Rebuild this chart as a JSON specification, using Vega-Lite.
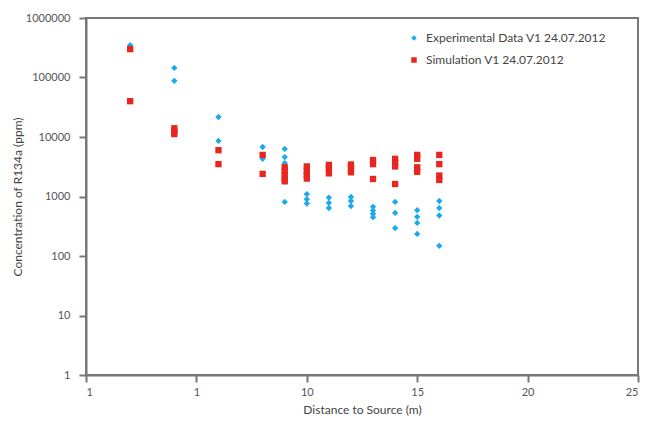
{
  "$schema": "https://vega.github.io/schema/vega-lite/v6.json",
  "width": 552,
  "height": 357,
  "autosize": {"type": "none"},
  "padding": {"left": 86, "top": 18, "right": 14, "bottom": 54},
  "background": "white",
  "config": {
    "font": "Lato",
    "view": {"stroke": "#777777", "strokeWidth": 2},
    "axis": {
      "grid": false,
      "domainColor": "#777777",
      "domainWidth": 2,
      "tickColor": "#777777",
      "tickWidth": 2,
      "tickSize": 7,
      "labelColor": "#555555",
      "labelFontSize": 11,
      "titleColor": "#444444",
      "titleFontSize": 12,
      "titleFontWeight": "normal",
      "labelFont": "Lato",
      "titleFont": "Lato"
    }
  },
  "data": {
    "values": [
      {"d": 2, "c": 350000, "s": "Experimental Data V1 24.07.2012"},
      {"d": 4, "c": 145000, "s": "Experimental Data V1 24.07.2012"},
      {"d": 4, "c": 88000, "s": "Experimental Data V1 24.07.2012"},
      {"d": 6, "c": 21700, "s": "Experimental Data V1 24.07.2012"},
      {"d": 6, "c": 8600, "s": "Experimental Data V1 24.07.2012"},
      {"d": 8, "c": 6800, "s": "Experimental Data V1 24.07.2012"},
      {"d": 8, "c": 4300, "s": "Experimental Data V1 24.07.2012"},
      {"d": 9, "c": 6300, "s": "Experimental Data V1 24.07.2012"},
      {"d": 9, "c": 4600, "s": "Experimental Data V1 24.07.2012"},
      {"d": 9, "c": 3650, "s": "Experimental Data V1 24.07.2012"},
      {"d": 9, "c": 810, "s": "Experimental Data V1 24.07.2012"},
      {"d": 10, "c": 1100, "s": "Experimental Data V1 24.07.2012"},
      {"d": 10, "c": 900, "s": "Experimental Data V1 24.07.2012"},
      {"d": 10, "c": 760, "s": "Experimental Data V1 24.07.2012"},
      {"d": 11, "c": 960, "s": "Experimental Data V1 24.07.2012"},
      {"d": 11, "c": 780, "s": "Experimental Data V1 24.07.2012"},
      {"d": 11, "c": 640, "s": "Experimental Data V1 24.07.2012"},
      {"d": 12, "c": 980, "s": "Experimental Data V1 24.07.2012"},
      {"d": 12, "c": 840, "s": "Experimental Data V1 24.07.2012"},
      {"d": 12, "c": 690, "s": "Experimental Data V1 24.07.2012"},
      {"d": 13, "c": 670, "s": "Experimental Data V1 24.07.2012"},
      {"d": 13, "c": 580, "s": "Experimental Data V1 24.07.2012"},
      {"d": 13, "c": 510, "s": "Experimental Data V1 24.07.2012"},
      {"d": 13, "c": 450, "s": "Experimental Data V1 24.07.2012"},
      {"d": 14, "c": 810, "s": "Experimental Data V1 24.07.2012"},
      {"d": 14, "c": 530, "s": "Experimental Data V1 24.07.2012"},
      {"d": 14, "c": 295, "s": "Experimental Data V1 24.07.2012"},
      {"d": 15, "c": 590, "s": "Experimental Data V1 24.07.2012"},
      {"d": 15, "c": 455, "s": "Experimental Data V1 24.07.2012"},
      {"d": 15, "c": 360, "s": "Experimental Data V1 24.07.2012"},
      {"d": 15, "c": 235, "s": "Experimental Data V1 24.07.2012"},
      {"d": 16, "c": 840, "s": "Experimental Data V1 24.07.2012"},
      {"d": 16, "c": 640, "s": "Experimental Data V1 24.07.2012"},
      {"d": 16, "c": 480, "s": "Experimental Data V1 24.07.2012"},
      {"d": 16, "c": 148, "s": "Experimental Data V1 24.07.2012"},
      {"d": 2, "c": 300000, "s": "Simulation V1 24.07.2012"},
      {"d": 2, "c": 40000, "s": "Simulation V1 24.07.2012"},
      {"d": 4, "c": 14000, "s": "Simulation V1 24.07.2012"},
      {"d": 4, "c": 12500, "s": "Simulation V1 24.07.2012"},
      {"d": 4, "c": 11200, "s": "Simulation V1 24.07.2012"},
      {"d": 6, "c": 6000, "s": "Simulation V1 24.07.2012"},
      {"d": 6, "c": 3500, "s": "Simulation V1 24.07.2012"},
      {"d": 8, "c": 5000, "s": "Simulation V1 24.07.2012"},
      {"d": 8, "c": 2400, "s": "Simulation V1 24.07.2012"},
      {"d": 9, "c": 3100, "s": "Simulation V1 24.07.2012"},
      {"d": 9, "c": 2700, "s": "Simulation V1 24.07.2012"},
      {"d": 9, "c": 2300, "s": "Simulation V1 24.07.2012"},
      {"d": 9, "c": 2000, "s": "Simulation V1 24.07.2012"},
      {"d": 9, "c": 1800, "s": "Simulation V1 24.07.2012"},
      {"d": 10, "c": 3200, "s": "Simulation V1 24.07.2012"},
      {"d": 10, "c": 2700, "s": "Simulation V1 24.07.2012"},
      {"d": 10, "c": 2300, "s": "Simulation V1 24.07.2012"},
      {"d": 10, "c": 2000, "s": "Simulation V1 24.07.2012"},
      {"d": 11, "c": 3400, "s": "Simulation V1 24.07.2012"},
      {"d": 11, "c": 2900, "s": "Simulation V1 24.07.2012"},
      {"d": 11, "c": 2450, "s": "Simulation V1 24.07.2012"},
      {"d": 12, "c": 3450, "s": "Simulation V1 24.07.2012"},
      {"d": 12, "c": 3000, "s": "Simulation V1 24.07.2012"},
      {"d": 12, "c": 2550, "s": "Simulation V1 24.07.2012"},
      {"d": 13, "c": 4100, "s": "Simulation V1 24.07.2012"},
      {"d": 13, "c": 3500, "s": "Simulation V1 24.07.2012"},
      {"d": 13, "c": 1970, "s": "Simulation V1 24.07.2012"},
      {"d": 14, "c": 4300, "s": "Simulation V1 24.07.2012"},
      {"d": 14, "c": 3700, "s": "Simulation V1 24.07.2012"},
      {"d": 14, "c": 3200, "s": "Simulation V1 24.07.2012"},
      {"d": 14, "c": 1620, "s": "Simulation V1 24.07.2012"},
      {"d": 15, "c": 5000, "s": "Simulation V1 24.07.2012"},
      {"d": 15, "c": 4300, "s": "Simulation V1 24.07.2012"},
      {"d": 15, "c": 3100, "s": "Simulation V1 24.07.2012"},
      {"d": 15, "c": 2600, "s": "Simulation V1 24.07.2012"},
      {"d": 16, "c": 5000, "s": "Simulation V1 24.07.2012"},
      {"d": 16, "c": 3500, "s": "Simulation V1 24.07.2012"},
      {"d": 16, "c": 2250, "s": "Simulation V1 24.07.2012"},
      {"d": 16, "c": 1900, "s": "Simulation V1 24.07.2012"}
    ]
  },
  "mark": {"type": "point", "filled": true, "opacity": 1, "size": 40},
  "encoding": {
    "x": {
      "field": "d",
      "type": "quantitative",
      "scale": {"domain": [0, 25], "nice": false, "zero": false},
      "axis": {
        "values": [0, 5, 10, 15, 20, 25],
        "labelExpr": "datum.value < 10 ? '1' : datum.label",
        "labelPadding": 4,
        "title": "Distance to Source (m)",
        "titlePadding": 7
      }
    },
    "y": {
      "field": "c",
      "type": "quantitative",
      "scale": {"type": "log", "domain": [1, 1000000], "nice": false},
      "axis": {
        "values": [1, 10, 100, 1000, 10000, 100000, 1000000],
        "format": "d",
        "labelPadding": 9,
        "title": "Concentration of R134a (ppm)",
        "titlePadding": 1
      }
    },
    "color": {
      "field": "s",
      "type": "nominal",
      "scale": {"domain": ["Experimental Data V1 24.07.2012", "Simulation V1 24.07.2012"], "range": ["#1aa9ec", "#e8251f"]},
      "legend": {
        "title": null,
        "orient": "none",
        "legendX": 322,
        "legendY": 14,
        "padding": 0,
        "symbolSize": 30,
        "labelFontSize": 12,
        "labelColor": "#444444",
        "labelFont": "Lato",
        "labelLimit": 400,
        "rowPadding": 10,
        "labelOffset": 6
      }
    },
    "shape": {
      "field": "s",
      "type": "nominal",
      "scale": {"domain": ["Experimental Data V1 24.07.2012", "Simulation V1 24.07.2012"], "range": ["diamond", "square"]},
      "legend": null
    }
  }
}
